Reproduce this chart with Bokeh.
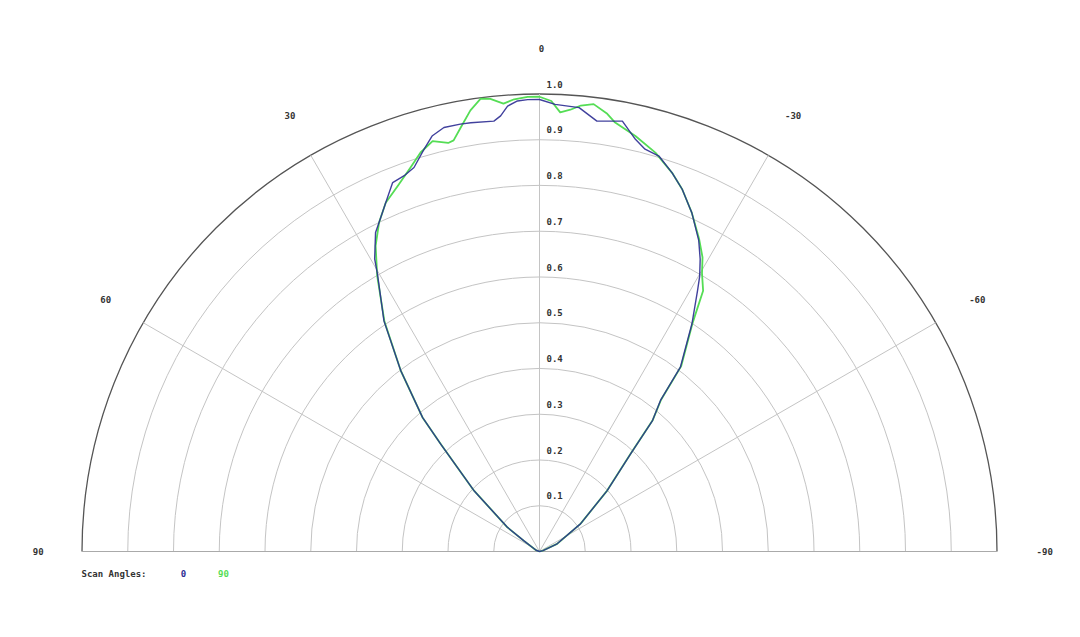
import numpy as np
from bokeh.plotting import figure
from bokeh.models import ColumnDataSource, Range1d
from bokeh.core.properties import value
from bokeh.embed import file_html
from bokeh.resources import INLINE

# ---------------- data ----------------
# scan angle 0 (blue): angle in degrees (positive = left), normalised amplitude
blue_angle = [-90, -75, -66.5, -56, -48, -43, -40.8, -38.7, -37.4, -33.8, -31.2, -30.2,
              -28.8, -27.1, -24.2, -21.5, -19.3, -16.8, -14.7, -13.1, -10.9, -7.6, -5.1,
              -2.0, 0, 1.5, 2.8, 4.1, 5.1, 6.05, 9.1, 10.5, 12.7, 14.5, 16.0, 18.1, 19.8,
              21.7, 23.8, 26.0, 27.2, 29.4, 30.3, 34.0, 37.5, 41.1, 42.6, 47.1, 53.0,
              55.5, 70, 90]
blue_gain = [0.0, 0.008, 0.042, 0.108, 0.199, 0.292, 0.378, 0.423, 0.507, 0.599, 0.667, 0.696,
             0.729, 0.764, 0.812, 0.851, 0.877, 0.903, 0.909, 0.925, 0.958, 0.949, 0.974,
             0.978, 0.988, 0.988, 0.986, 0.976, 0.956, 0.946, 0.949, 0.950, 0.950, 0.938,
             0.915, 0.883, 0.873, 0.868, 0.833, 0.800, 0.784, 0.734, 0.702, 0.608, 0.498,
             0.389, 0.319, 0.196, 0.088, 0.042, 0.008, 0.0]

# scan angle 90 (green)
green_angle = [-90, -75, -66.5, -56, -48, -43, -40.8, -38.7, -37.4, -33.8, -32.1, -30.3,
               -29.0, -27.0, -24.2, -21.5, -19.3, -16.2, -13.0, -10.0, -8.8, -6.9, -5.3,
               -4.0, -2.7, -1.5, 0, 1.5, 3.2, 4.6, 6.2, 7.4, 8.9, 10.5, 11.8, 12.6, 14.6,
               16.6, 18.6, 21.2, 23.8, 26.0, 28.2, 30.5, 34.0, 37.5, 41.1, 42.6, 47.1,
               53.0, 55.5, 70, 90]
green_gain = [0.0, 0.008, 0.042, 0.108, 0.199, 0.292, 0.378, 0.425, 0.510, 0.602, 0.673, 0.704,
              0.735, 0.768, 0.812, 0.851, 0.877, 0.908, 0.932, 0.952, 0.968, 0.985, 0.979,
              0.968, 0.961, 0.985, 0.994, 0.994, 0.990, 0.982, 0.995, 0.998, 0.976, 0.943,
              0.918, 0.915, 0.927, 0.910, 0.885, 0.857, 0.833, 0.800, 0.758, 0.699, 0.606,
              0.498, 0.389, 0.319, 0.196, 0.088, 0.042, 0.008, 0.0]

ring_levels = [0.1, 0.2, 0.3, 0.4, 0.5, 0.6, 0.7, 0.8, 0.9, 1.0]
ring_labels = ["0.1", "0.2", "0.3", "0.4", "0.5", "0.6", "0.7", "0.8", "0.9", "1.0"]
spoke_angles = [90, 60, 30, 0, -30, -60, -90]
spoke_labels = ["90", "60", "30", "0", "-30", "-60", "-90"]
series_names = ["0", "90"]
series_colors = ["#2c2c92", "#55dd55"]
legend_title = "Scan Angles:"

# ---------------- layout ----------------
W, H = 1064, 621
S = 457.5          # pixels per unit radius
CX, CY = 539, 551  # centre in figure pixels (from left, from top)

p = figure(width=W, height=H, output_backend="svg", toolbar_location=None,
           x_range=Range1d(-CX / S, (W - CX) / S),
           y_range=Range1d(-(H - CY) / S, CY / S),
           min_border=0)
p.axis.visible = False
p.xgrid.visible = False
p.ygrid.visible = False
p.outline_line_color = None
p.background_fill_color = "white"
p.border_fill_color = "white"

def to_xy(ang_deg, r):
    a = np.radians(np.asarray(ang_deg, dtype=float))
    r = np.asarray(r, dtype=float)
    return -r * np.sin(a), r * np.cos(a)

# rings
inner = ring_levels[:-1]
p.arc(x=[0] * len(inner), y=[0] * len(inner), radius=inner, start_angle=0, end_angle=np.pi,
      line_color="#c4c4c4", line_width=1)
p.arc(x=[0], y=[0], radius=[ring_levels[-1]], start_angle=0, end_angle=np.pi,
      line_color="#555555", line_width=1.3)

# spokes
sx, sy = to_xy(spoke_angles, [ring_levels[-1]] * len(spoke_angles))
p.segment(x0=[0] * len(sx), y0=[0] * len(sy), x1=sx, y1=sy, line_color="#c4c4c4", line_width=1)
p.segment(x0=[sx[0]], y0=[0], x1=[sx[-1]], y1=[0], line_color="#aaaaaa", line_width=1)

# curves
gx, gy = to_xy(green_angle, green_gain)
bx, by = to_xy(blue_angle, blue_gain)
p.line(gx, gy, line_color=series_colors[1], line_width=1.8, line_join="round")
p.line(bx, by, line_color=series_colors[0], line_width=1.4, line_alpha=0.9, line_join="round")

font = value("DejaVu Sans Mono")

# radial labels
p.text(x=[0] * len(ring_levels), y=ring_levels, text=ring_labels, x_offset=7, y_offset=-10,
       text_font=font, text_font_size="9px", text_font_style="bold", text_color="#333333",
       text_align="left", text_baseline="middle")

# angle labels
lx, ly = to_xy(spoke_angles, [1.1] * len(spoke_angles))
p.text(x=lx, y=ly, text=spoke_labels, x_offset=2, text_font=font, text_font_size="9px",
       text_font_style="bold", text_color="#333333", text_align="center", text_baseline="middle")

# legend
p.text(x=[(81 - 539) / S], y=[(551 - 573) / S], text=[legend_title], text_font=font,
       text_font_size="9px", text_font_style="bold", text_color="#333333",
       text_align="left", text_baseline="middle")
p.text(x=[(183 - 539) / S, (223 - 539) / S], y=[(551 - 573) / S] * 2, text=series_names,
       text_color=series_colors, text_font=font, text_font_size="9px", text_font_style="bold",
       text_align="center", text_baseline="middle")

open("out.html", "w").write(file_html(p, INLINE))
